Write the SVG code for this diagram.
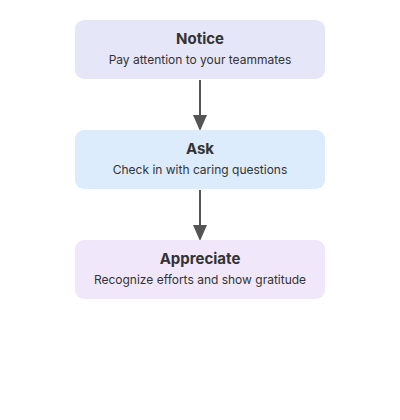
<svg xmlns="http://www.w3.org/2000/svg" width="400" height="420" viewBox="0 0 400 420">
<style>
.box{stroke:none}
.t{font-family:Inter,"Noto Sans","DejaVu Sans",sans-serif;font-size:15px;font-weight:700;fill:#333;text-anchor:middle}
.s{font-family:Inter,"Noto Sans","DejaVu Sans",sans-serif;font-size:12px;fill:#333;text-anchor:middle}
.c{stroke:#555;stroke-width:2;fill:none}
</style>
<defs>
<marker id="ah" markerUnits="userSpaceOnUse" markerWidth="16" markerHeight="20" refX="14" refY="7" orient="auto" viewBox="0 0 16 14">
<path d="M0,0 L16,7 L0,14 Z" fill="#555"/>
</marker>
</defs>
<rect width="400" height="420" fill="#fff"/>
<g id="connectors">
<line class="c" x1="200" y1="80" x2="200" y2="129" marker-end="url(#ah)"/>
<line class="c" x1="200" y1="190" x2="200" y2="239" marker-end="url(#ah)"/>
</g>
<g id="notice">
<rect class="box" x="75" y="20" width="250" height="59" rx="9" fill="#e6e6f9"/>
<text class="t" x="200" y="44">Notice</text>
<text class="s" x="200" y="64">Pay attention to your teammates</text>
</g>
<g id="ask">
<rect class="box" x="75" y="130" width="250" height="59" rx="9" fill="#dcecfd"/>
<text class="t" x="200" y="154">Ask</text>
<text class="s" x="200" y="174">Check in with caring questions</text>
</g>
<g id="appreciate">
<rect class="box" x="75" y="240" width="250" height="59" rx="9" fill="#f0e8fa"/>
<text class="t" x="200" y="264">Appreciate</text>
<text class="s" x="200" y="284">Recognize efforts and show gratitude</text>
</g>
</svg>
